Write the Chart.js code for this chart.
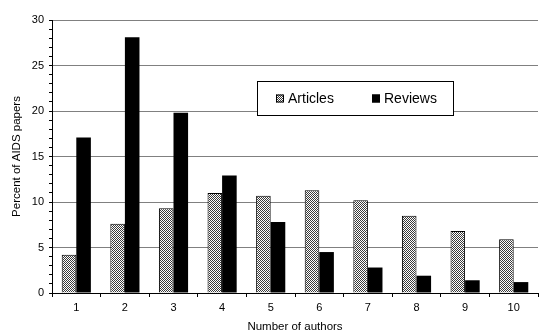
<!DOCTYPE html>
<html>
<head>
<meta charset="utf-8">
<script src="https://cdn.jsdelivr.net/npm/chart.js@4/dist/chart.umd.min.js"></script>
<style>
  html, body { margin: 0; padding: 0; background: #fff; }
  #wrap { width: 539px; height: 334px; position: relative; }
</style>
</head>
<body>
<div id="wrap"><canvas id="c" width="539" height="334"></canvas></div>
<script>
// Share of AIDS papers by number of authors
const categories = ['1', '2', '3', '4', '5', '6', '7', '8', '9', '10'];
const articles = [4.2, 7.6, 9.3, 11.0, 10.7, 11.3, 10.2, 8.5, 6.8, 5.9];
const reviews  = [17.1, 28.1, 19.8, 12.9, 7.8, 4.5, 2.8, 1.9, 1.4, 1.2];
const seriesNames = ['Articles', 'Reviews'];
const yTicksMajor = [0, 5, 10, 15, 20, 25, 30];

const FONT = '"Liberation Sans", Arial, sans-serif';

// fine checker fill for the Articles bars
function checkerPattern() {
  const p = document.createElement('canvas');
  p.width = 2; p.height = 2;
  const g = p.getContext('2d');
  g.fillStyle = '#ffffff'; g.fillRect(0, 0, 2, 2);
  g.fillStyle = '#3a3a3a';
  g.fillRect(0, 0, 1, 1);
  g.fillRect(1, 1, 1, 1);
  return g.createPattern(p, 'repeat');
}

const ctx = document.getElementById('c').getContext('2d');
const pattern = checkerPattern();

// boxed legend drawn inside the plot area
const boxLegend = {
  id: 'boxLegend',
  afterDraw(chart) {
    const c = chart.ctx;
    const x0 = 257.5, y0 = 81.5, w = 196, h = 34;
    c.save();
    c.fillStyle = '#fff';
    c.fillRect(x0, y0, w, h);
    c.strokeStyle = '#000';
    c.lineWidth = 1;
    c.strokeRect(x0, y0, w, h);
    c.font = '14px ' + FONT;
    c.textBaseline = 'middle';
    const cy = y0 + h / 2;
    const items = [
      { x: 276, fill: pattern, label: chart.data.datasets[0].label },
      { x: 372, fill: '#000', label: chart.data.datasets[1].label }
    ];
    items.forEach(it => {
      c.fillStyle = it.fill;
      c.fillRect(it.x, cy - 4, 8, 8);
      c.strokeStyle = '#000';
      c.strokeRect(it.x + 0.5, cy - 3.5, 7, 7);
      c.fillStyle = '#000';
      c.fillText(it.label, it.x + 12, cy + 0.5);
    });
    c.restore();
  }
};

new Chart(ctx, {
  type: 'bar',
  data: {
    labels: categories,
    datasets: [
      {
        label: seriesNames[0],
        data: articles,
        backgroundColor: pattern,
        borderColor: '#000',
        borderWidth: 1,
        borderSkipped: 'bottom'
      },
      {
        label: seriesNames[1],
        data: reviews,
        backgroundColor: '#000',
        borderColor: '#000',
        borderWidth: 0
      }
    ]
  },
  options: {
    responsive: false,
    animation: false,
    devicePixelRatio: 1,
    layout: { padding: { top: 20, right: 1, left: 0, bottom: 0 } },
    datasets: { bar: { categoryPercentage: 0.6, barPercentage: 1.0 } },
    plugins: {
      legend: { display: false },
      tooltip: { enabled: false }
    },
    scales: {
      x: {
        grid: {
          offset: true,
          drawOnChartArea: false,
          drawTicks: true,
          tickLength: 4,
          tickColor: '#000'
        },
        border: { color: '#000', width: 1 },
        ticks: {
          color: '#000',
          font: { family: FONT, size: 11 },
          padding: 4,
          maxRotation: 0
        },
        title: {
          display: true,
          text: 'Number of authors',
          color: '#000',
          font: { family: FONT, size: 11.5 },
          padding: { top: 2, bottom: 0 }
        },
        afterFit(s) { s.height = 41; }
      },
      y: {
        min: 0,
        max: 30,
        grid: {
          color: c => (c.tick && c.tick.value % 5 === 0 ? '#808080' : 'rgba(0,0,0,0)'),
          tickColor: '#000',
          drawTicks: true,
          tickLength: 3
        },
        border: { color: '#000', width: 1 },
        ticks: {
          stepSize: 1,
          autoSkip: false,
          color: '#000',
          font: { family: FONT, size: 11 },
          padding: 5,
          callback: v => (yTicksMajor.includes(v) ? String(v) : '')
        },
        title: {
          display: true,
          text: 'Percent of AIDS papers',
          color: '#000',
          font: { family: FONT, size: 11.5 },
          padding: { top: 10, bottom: 0 }
        },
        afterFit(s) { s.width = 52; }
      }
    }
  },
  plugins: [boxLegend]
});
</script>
</body>
</html>
